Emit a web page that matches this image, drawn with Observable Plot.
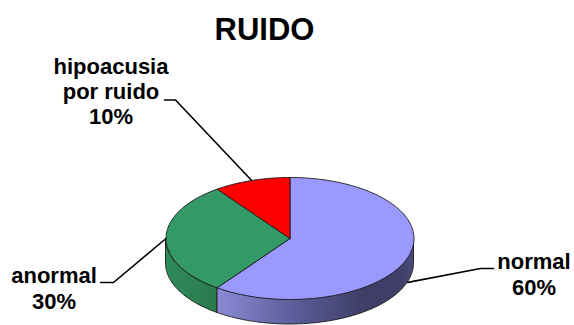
<!DOCTYPE html>
<html>
<head>
<meta charset="utf-8">
<script src="https://cdn.jsdelivr.net/npm/d3@7"></script>
<script src="https://cdn.jsdelivr.net/npm/@observablehq/plot@0.6"></script>
<style>
  html, body { margin: 0; padding: 0; background: #fff; }
  svg { display: block; }
</style>
</head>
<body>
<div id="chart"></div>
<script>
// Survey results for the noise exposure group
const title = "RUIDO";
const categories = ["normal", "anormal", "hipoacusia\npor ruido"];
const shares = [60, 30, 10];
const topColors = ["#9999ff", "#339966", "#ff0000"];

// Tilted pie drawn in the plot's own coordinate system
const pieCenter = {x: 289.5, y: 238};
const radiusX = 124, radiusY = 61, wallDepth = 25;
const rim = (a) => ({x: pieCenter.x + radiusX * Math.sin(a), y: pieCenter.y - radiusY * Math.cos(a)});

const arcs = d3.pie().sort(null)(shares);
const arcPoints = (a0, a1) => {
  const n = Math.max(2, Math.ceil((a1 - a0) / 0.02));
  return d3.range(n + 1).map((i) => rim(a0 + ((a1 - a0) * i) / n));
};

const sliceTops = arcs.map((arc) => [pieCenter, ...arcPoints(arc.startAngle, arc.endAngle), pieCenter]);

// Only the front half of the cylinder shows a wall
const wallOf = (arc) => {
  const a0 = Math.max(arc.startAngle, Math.PI / 2);
  const a1 = Math.min(arc.endAngle, (3 * Math.PI) / 2);
  return a1 > a0 ? arcPoints(a0, a1).map((p) => ({x: p.x, y1: p.y, y2: p.y + wallDepth})) : null;
};
const wallFills = ["url(#wall-normal)", "url(#wall-anormal)", "#a00"];

// Callout layout: text block centre, elbow and horizontal stub
const callouts = [
  {tx: 533.5, ty: 273.5, elbow: [480, 268], stub: [493, 268]},
  {tx: 53.5, ty: 287.5, elbow: [113, 282], stub: [100, 282]},
  {tx: 110.5, ty: 90.5, elbow: [175, 99.5], stub: [164, 99.5]}
];

const leaderPaths = arcs.map((arc, i) => {
  const mid = (arc.startAngle + arc.endAngle) / 2;
  const p = rim(mid);
  const drop = mid > Math.PI / 2 && mid < (3 * Math.PI) / 2 ? wallDepth : 0;
  const c = callouts[i];
  return [[p.x, p.y + drop], c.elbow, c.stub];
});

const labelRows = categories.map((name, i) => ({
  text: `${name}\n${shares[i]}%`, x: callouts[i].tx, y: callouts[i].ty
}));

const gradients = () => {
  const ns = "http://www.w3.org/2000/svg";
  const defs = document.createElementNS(ns, "defs");
  const stops = {
    "wall-normal": [[0, "#8b8bd6"], [0.4, "#5c5c99"], [0.75, "#3e3e66"], [0.93, "#3f3f68"], [1, "#4b4b7c"]],
    "wall-anormal": [[0, "#2f8a5a"], [1, "#2a7a4e"]]
  };
  for (const [id, list] of Object.entries(stops)) {
    const g = document.createElementNS(ns, "linearGradient");
    g.setAttribute("id", id);
    for (const [o, c] of list) {
      const s = document.createElementNS(ns, "stop");
      s.setAttribute("offset", o);
      s.setAttribute("stop-color", c);
      g.appendChild(s);
    }
    defs.appendChild(g);
  }
  return defs;
};

const font = {fontFamily: "Liberation Sans, Arial, sans-serif", fontWeight: "bold", fill: "#000"};

const chart = Plot.plot({
  width: 574,
  height: 325,
  margin: 0,
  x: {domain: [0, 574], range: [0, 574], axis: null},
  y: {domain: [0, 325], range: [0, 325], axis: null},
  style: {background: "#fff"},
  marks: [
    gradients,
    ...arcs.map((arc, i) => {
      const wall = wallOf(arc);
      return wall
        ? Plot.areaY(wall, {x: "x", y1: "y1", y2: "y2", fill: wallFills[i], stroke: "#1a1a1a", strokeWidth: 0.9})
        : null;
    }),
    ...sliceTops.map((points, i) =>
      Plot.line(points, {x: "x", y: "y", fill: topColors[i], stroke: "#1a1a1a", strokeWidth: 0.9, curve: "linear"})
    ),
    ...leaderPaths.map((path) =>
      Plot.line(path, {x: (d) => d[0], y: (d) => d[1], stroke: "#000", strokeWidth: 1.6, curve: "linear"})
    ),
    Plot.text(labelRows, {x: "x", y: "y", text: "text", fontSize: 22, lineHeight: 1.15, textAnchor: "middle", ...font}),
    Plot.text([title], {x: [264], y: [30], text: (d) => d, fontSize: 31, textAnchor: "middle", ...font})
  ]
});

document.getElementById("chart").appendChild(chart);
</script>
</body>
</html>
